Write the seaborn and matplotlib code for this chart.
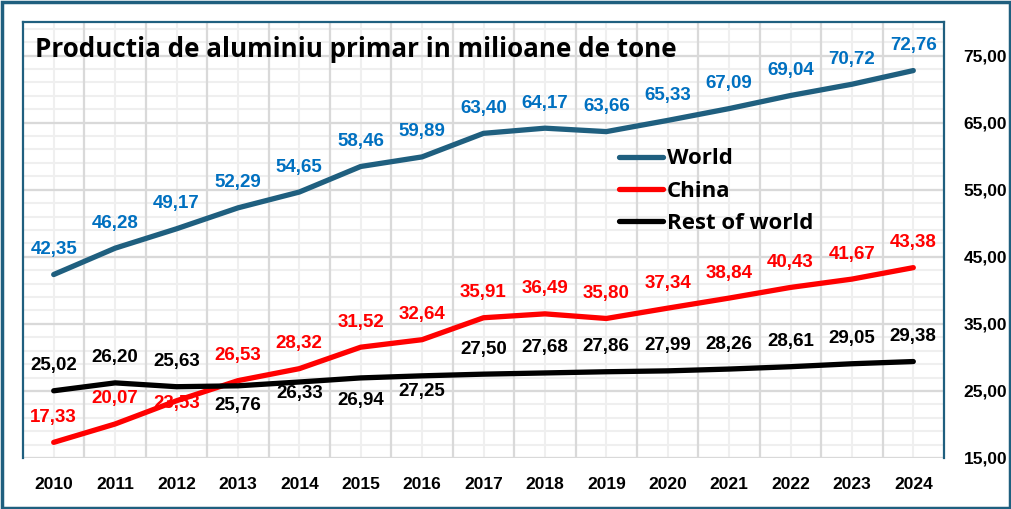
import numpy as np
import pandas as pd
import seaborn as sns
import matplotlib.pyplot as plt
from matplotlib.patches import Rectangle

years = list(range(2010, 2025))
world = [42.35, 46.28, 49.17, 52.29, 54.65, 58.46, 59.89, 63.40, 64.17, 63.66,
         65.33, 67.09, 69.04, 70.72, 72.76]
china = [17.33, 20.07, 23.53, 26.53, 28.32, 31.52, 32.64, 35.91, 36.49, 35.80,
         37.34, 38.84, 40.43, 41.67, 43.38]
rest = [25.02, 26.20, 25.63, 25.76, 26.33, 26.94, 27.25, 27.50, 27.68, 27.86,
        27.99, 28.26, 28.61, 29.05, 29.38]
series_names = ["World", "China", "Rest of world"]
title = "Productia de aluminiu primar in milioane de tone"

df = pd.DataFrame({
    "year": years * 3,
    "value": world + china + rest,
    "series": [series_names[0]] * 15 + [series_names[1]] * 15 + [series_names[2]] * 15,
})

line_colors = {"World": "#1F5F7F", "China": "#FF0000", "Rest of world": "#000000"}
label_colors = {"World": "#0070C0", "China": "#FF0000", "Rest of world": "#000000"}
frame_col = "#1F5F7F"

sns.set_theme(style="white")
plt.rcParams["font.family"] = ["Liberation Sans", "DejaVu Sans"]
plt.rcParams["text.color"] = "black"

fig = plt.figure(figsize=(10.11, 5.09), dpi=100)
ax = fig.add_axes([23 / 1011, 51 / 509, 921 / 1011, 436 / 509])

sns.lineplot(data=df, x="year", y="value", hue="series", hue_order=series_names,
             palette=line_colors, linewidth=3.8, ax=ax,
             solid_capstyle="round", zorder=3)

ax.set_xlim(2009.5, 2024.5)
ax.set_ylim(15, 80)

ax.grid(False)
for y in np.arange(15, 80.1, 2):
    ax.axhline(y, color="#EFEFEF", lw=1.5, zorder=0)
for y in [15, 25, 35, 45, 55, 65, 75]:
    ax.axhline(y, color="#D9D9D9", lw=1.6, zorder=1)
for x in years:
    ax.axvline(x, color="#EFEFEF", lw=1.5, zorder=0)
for x in years[:-1]:
    ax.axvline(x + 0.5, color="#D9D9D9", lw=1.6, zorder=1)

ax.set_xlabel("")
ax.set_ylabel("")
ax.set_xticks(years)
ax.set_xticklabels([str(y) for y in years], fontsize=12.5, fontweight="bold")
ax.yaxis.tick_right()
ax.set_yticks([15, 25, 35, 45, 55, 65, 75])
ax.set_yticklabels([f"{v},00" for v in [15, 25, 35, 45, 55, 65, 75]],
                   fontsize=12.5, fontweight="bold")
ax.tick_params(axis="x", length=0, pad=14, colors="black")
ax.tick_params(axis="y", length=0, pad=14, colors="black")

for side in ["top", "left", "right"]:
    ax.spines[side].set_color(frame_col)
    ax.spines[side].set_linewidth(1.6)
ax.spines["bottom"].set_visible(False)

# data labels (offsets in pixels, default above the point)
special_offsets = {
    ("China", 2012): -3,
    ("Rest of world", 2013): -20,
    ("Rest of world", 2014): -11,
    ("Rest of world", 2015): -23,
    ("Rest of world", 2016): -16,
}
for name, vals in zip(series_names, [world, china, rest]):
    for yr, v in zip(years, vals):
        dy = special_offsets.get((name, yr), 25) * 0.72
        ax.annotate(f"{v:.2f}".replace(".", ","), (yr, v), xytext=(0, dy),
                    textcoords="offset points", ha="center", va="center",
                    fontsize=13.5, fontweight="bold", color=label_colors[name],
                    zorder=4)

ax.text(0.013, 0.936, title, transform=ax.transAxes, fontsize=18.7,
        fontweight="bold", family=["Open Sans", "DejaVu Sans"], va="center",
        ha="left", color="black", zorder=5)

handles, labels = ax.get_legend_handles_labels()
leg = ax.legend(handles, labels, loc="upper left", bbox_to_anchor=(0.647, 0.71),
                frameon=False, borderpad=0, borderaxespad=0, handlelength=2.0,
                handletextpad=0.15, labelspacing=0.5,
                prop={"family": ["Open Sans", "DejaVu Sans"], "weight": "bold",
                      "size": 16})
for h in leg.get_lines():
    h.set_linewidth(3.8)
for t in leg.get_texts():
    t.set_color("black")

fig.patches.append(Rectangle((1.5 / 1011, 1.5 / 509), 1 - 3 / 1011, 1 - 3 / 509,
                             transform=fig.transFigure, fill=False,
                             edgecolor=frame_col, linewidth=2.5, zorder=10))

fig.savefig("out.png", dpi=100)
